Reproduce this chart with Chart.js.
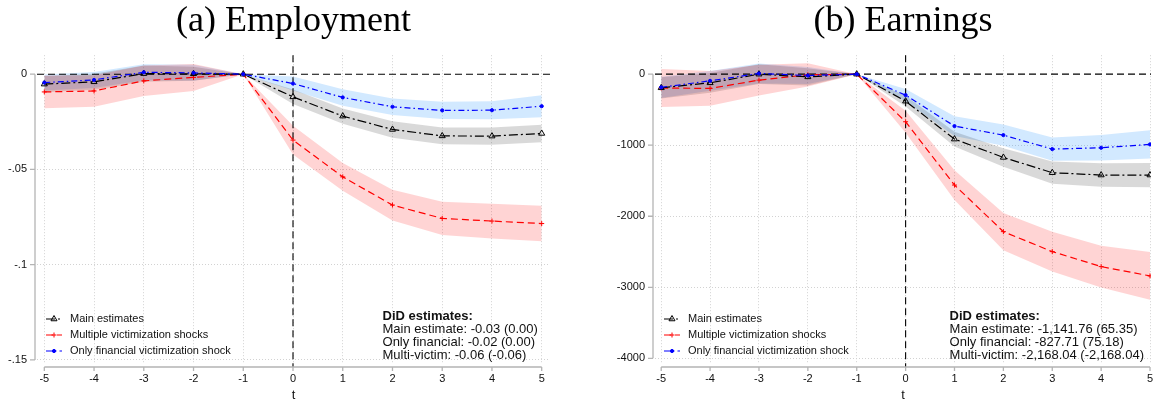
<!DOCTYPE html>
<html>
<head>
<meta charset="utf-8">
<title>Victimization shocks - event study</title>
<script src="https://cdn.jsdelivr.net/npm/chart.js@4.4.0/dist/chart.umd.min.js"></script>
<style>
    html, body { margin: 0; padding: 0; background: #fff; }
    #wrap { position: relative; width: 1156px; height: 402px; }
    .panel { position: absolute; top: 0; width: 578px; height: 402px; }
</style>
</head>
<body>
<div id="wrap">
    <div class="panel" style="left:0"><canvas id="empChart" width="578" height="402"></canvas></div>
    <div class="panel" style="left:578px"><canvas id="earnChart" width="578" height="402"></canvas></div>
</div>
<script>
// Event time
const periods = [-5, -4, -3, -2, -1, 0, 1, 2, 3, 4, 5];

// (a) Employment
const empMain     = [-0.0052, -0.0040, 0.0003, 0.0002, 0, -0.0119, -0.0220, -0.0290, -0.0324, -0.0325, -0.0311];
const empMainLo   = [-0.0095, -0.0082, -0.0040, -0.0035, 0, -0.0157, -0.0260, -0.0333, -0.0368, -0.0370, -0.0357];
const empMainHi   = [-0.0009, 0.0002, 0.0046, 0.0039, 0, -0.0081, -0.0180, -0.0247, -0.0280, -0.0280, -0.0265];
const empMulti    = [-0.0093, -0.0088, -0.0035, -0.0017, 0, -0.0346, -0.0539, -0.0687, -0.0757, -0.0771, -0.0784];
const empMultiLo  = [-0.0179, -0.0171, -0.0115, -0.0088, 0, -0.0422, -0.0612, -0.0768, -0.0844, -0.0862, -0.0877];
const empMultiHi  = [-0.0007, -0.0005, 0.0045, 0.0054, 0, -0.0270, -0.0466, -0.0606, -0.0670, -0.0680, -0.0691];
const empFin      = [-0.0044, -0.0030, 0.0010, 0.0007, 0, -0.0049, -0.0122, -0.0171, -0.0190, -0.0189, -0.0168];
const empFinLo    = [-0.0086, -0.0072, -0.0032, -0.0035, 0, -0.0086, -0.0165, -0.0214, -0.0235, -0.0236, -0.0226];
const empFinHi    = [-0.0002, 0.0012, 0.0052, 0.0049, 0, -0.0012, -0.0079, -0.0128, -0.0145, -0.0142, -0.0110];
const empYTicks   = [0, -0.05, -0.1, -0.15];
const empNote     = ['DiD estimates:', 'Main estimate: -0.03 (0.00)', 'Only financial: -0.02 (0.00)', 'Multi-victim: -0.06 (-0.06)'];

// (b) Earnings
const earnMain    = [-192, -122, 0, -38, 0, -380, -914, -1172, -1387, -1420, -1420];
const earnMainLo  = [-342, -262, -140, -158, 0, -455, -1019, -1302, -1544, -1585, -1591];
const earnMainHi  = [-42, 18, 140, 82, 0, -305, -809, -1042, -1230, -1255, -1249];
const earnMulti   = [-195, -201, -84, -9, 0, -670, -1561, -2217, -2498, -2709, -2840];
const earnMultiLo = [-463, -446, -300, -173, 0, -825, -1771, -2479, -2779, -3004, -3175];
const earnMultiHi = [73, 44, 132, 155, 0, -515, -1351, -1955, -2217, -2414, -2505];
const earnFin     = [-185, -94, 10, -19, 0, -295, -731, -858, -1055, -1036, -989];
const earnFinLo   = [-335, -234, -130, -139, 0, -380, -871, -1008, -1219, -1216, -1188];
const earnFinHi   = [-35, 46, 150, 101, 0, -210, -591, -708, -891, -856, -790];
const earnYTicks  = [0, -1000, -2000, -3000, -4000];
const earnNote    = ['DiD estimates:', 'Main estimate: -1,141.76 (65.35)', 'Only financial: -827.71 (75.18)', 'Multi-victim: -2,168.04 (-2,168.04)'];

const SANS = "'Liberation Sans', Arial, sans-serif";
const SERIF = "'Liberation Serif', 'Times New Roman', serif";

// Line / marker / band look for each series (legend order)
const styles = {
    main:  { label: 'Main estimates', color: '#000000', dash: [9, 3, 2, 3], pointStyle: 'triangle', radius: 3.5, fillPt: 'rgba(0,0,0,0)', band: 'rgba(0,0,0,0.15)', order: 1 },
    multi: { label: 'Multiple victimization shocks', color: '#ff0000', dash: [7, 4], pointStyle: 'cross', radius: 2.5, fillPt: '#ff0000', band: 'rgba(255,0,0,0.17)', order: 2 },
    fin:   { label: 'Only financial victimization shock', color: '#0000ff', dash: [6, 3, 1.5, 3], pointStyle: 'circle', radius: 1.6, fillPt: '#0000ff', band: 'rgba(30,144,255,0.2)', order: 0 }
};

const pts = arr => periods.map((t, i) => ({ x: t, y: arr[i] }));

function bandSets(lo, hi, color) {
    return [
        { data: pts(hi), borderWidth: 0, pointRadius: 0, fill: '+1', backgroundColor: color, order: 20 },
        { data: pts(lo), borderWidth: 0, pointRadius: 0, fill: false, order: 21 }
    ];
}

function lineSet(key, est) {
    const s = styles[key];
    return {
        label: s.label,
        data: pts(est),
        borderColor: s.color,
        borderWidth: 1.2,
        borderDash: s.dash,
        tension: 0,
        fill: false,
        pointStyle: s.pointStyle,
        pointRadius: s.radius,
        pointBorderColor: s.color,
        pointBackgroundColor: s.fillPt,
        pointBorderWidth: 1,
        order: s.order
    };
}

// Stata-like furniture: zero lines, short axis lines, legend and DiD note
function furniture(cfg) {
    return {
        id: 'furniture',
        beforeDatasetsDraw(chart) {
            const { ctx, chartArea: a, scales: { x, y } } = chart;
            const y0 = y.getPixelForValue(0), x0 = x.getPixelForValue(0);
            ctx.save();
            ctx.strokeStyle = '#000';
            ctx.lineWidth = 1.1;
            ctx.setLineDash([7, 4]);
            ctx.beginPath();
            ctx.moveTo(a.left, y0); ctx.lineTo(a.right, y0);
            ctx.moveTo(x0, a.top); ctx.lineTo(x0, a.bottom + 4);
            ctx.stroke();
            ctx.restore();
        },
        afterDraw(chart) {
            const { ctx, chartArea: a, scales: { x, y } } = chart;
            ctx.save();

            // axis lines span only the labelled range
            ctx.strokeStyle = '#b4b4b4';
            ctx.lineWidth = 1.3;
            ctx.beginPath();
            const ax = a.left - 2;
            ctx.moveTo(ax, y.getPixelForValue(cfg.yTicks[0]));
            ctx.lineTo(ax, y.getPixelForValue(cfg.yTicks[cfg.yTicks.length - 1]));
            cfg.yTicks.forEach(v => {
                const py = y.getPixelForValue(v);
                ctx.moveTo(ax, py); ctx.lineTo(ax - 5, py);
            });
            const ay = a.bottom + 4;
            ctx.moveTo(x.getPixelForValue(periods[0]), ay);
            ctx.lineTo(x.getPixelForValue(periods[periods.length - 1]), ay);
            periods.forEach(t => {
                const px = x.getPixelForValue(t);
                ctx.moveTo(px, ay); ctx.lineTo(px, ay + 4);
            });
            ctx.stroke();

            // legend
            ctx.font = '11px ' + SANS;
            ctx.textBaseline = 'middle';
            ['main', 'multi', 'fin'].forEach((key, i) => {
                const s = styles[key];
                const ry = a.bottom - 44 + i * 16;
                const lx = a.left + 9;
                ctx.strokeStyle = s.color;
                ctx.lineWidth = 1.2;
                ctx.setLineDash(s.dash);
                ctx.beginPath();
                ctx.moveTo(lx, ry); ctx.lineTo(lx + 16, ry);
                ctx.stroke();
                ctx.setLineDash([]);
                ctx.lineWidth = 1;
                ctx.fillStyle = s.fillPt;
                Chart.helpers.drawPoint(ctx, { pointStyle: s.pointStyle, radius: s.radius, borderWidth: 1, rotation: 0 }, lx + 8, ry);
                ctx.fillStyle = '#111';
                ctx.textAlign = 'left';
                ctx.fillText(s.label, a.left + 33, ry);
            });

            // DiD note
            const nx = x.getPixelForValue(cfg.noteX);
            const ny = y.getPixelForValue(cfg.noteY);
            cfg.note.forEach((line, i) => {
                ctx.font = (i === 0 ? 'bold ' : '') + '13px ' + SANS;
                ctx.fillStyle = '#111';
                ctx.fillText(line, nx, ny + i * 13);
            });
            ctx.restore();
        }
    };
}

function makeChart(canvasId, cfg) {
    const datasets = [
        ...bandSets(cfg.multiLo, cfg.multiHi, styles.multi.band),
        ...bandSets(cfg.mainLo, cfg.mainHi, styles.main.band),
        ...bandSets(cfg.finLo, cfg.finHi, styles.fin.band),
        lineSet('multi', cfg.multi),
        lineSet('main', cfg.main),
        lineSet('fin', cfg.fin)
    ];

    return new Chart(document.getElementById(canvasId), {
        type: 'line',
        data: { datasets: datasets },
        plugins: [furniture(cfg)],
        options: {
            responsive: false,
            animation: false,
            devicePixelRatio: 1,
            layout: { padding: { left: 0, right: cfg.padRight, top: 0, bottom: 0 } },
            plugins: {
                legend: { display: false },
                tooltip: { enabled: false },
                filler: { drawTime: 'beforeDatasetsDraw' },
                title: {
                    display: true,
                    text: cfg.title,
                    fullSize: false,
                    color: '#000',
                    font: { family: SERIF, size: 36, weight: 'normal', lineHeight: 1.2 },
                    padding: { top: 0, bottom: 12 }
                }
            },
            scales: {
                x: {
                    type: 'linear',
                    min: cfg.xMin,
                    max: cfg.xMax,
                    afterBuildTicks: s => { s.ticks = periods.map(v => ({ value: v })); },
                    afterFit: s => {
                        s.height = 39;
                        s.paddingLeft = 0;
                        s.paddingRight = 0;
                    },
                    ticks: {
                        autoSkip: false,
                        maxRotation: 0,
                        padding: 9,
                        color: '#111',
                        font: { family: SANS, size: 11 },
                        callback: v => String(v)
                    },
                    title: {
                        display: true,
                        text: 't',
                        color: '#111',
                        font: { family: SANS, size: 13, lineHeight: 1.0 },
                        padding: { top: 4, bottom: 0 }
                    },
                    grid: { color: '#d2d2d2', lineWidth: 1, drawTicks: false },
                    border: { display: false, dash: [1, 2] }
                },
                y: {
                    type: 'linear',
                    min: cfg.yMin,
                    max: cfg.yMax,
                    afterBuildTicks: s => { s.ticks = cfg.yTicks.map(v => ({ value: v })); },
                    afterFit: s => {
                        s.width = cfg.axisWidth;
                        s.paddingTop = 0;
                        s.paddingBottom = 0;
                    },
                    ticks: {
                        autoSkip: false,
                        padding: 10,
                        color: '#111',
                        font: { family: SANS, size: 11 },
                        callback: cfg.fmt
                    },
                    grid: {
                        color: c => (c.tick && c.tick.value === 0) ? 'rgba(0,0,0,0)' : '#d2d2d2',
                        lineWidth: 1,
                        drawTicks: false
                    },
                    border: { display: false, dash: [1, 2] }
                }
            }
        }
    });
}

makeChart('empChart', {
    title: '(a) Employment',
    main: empMain, mainLo: empMainLo, mainHi: empMainHi,
    multi: empMulti, multiLo: empMultiLo, multiHi: empMultiHi,
    fin: empFin, finLo: empFinLo, finHi: empFinHi,
    yTicks: empYTicks,
    yMin: -0.1516, yMax: 0.00997,
    xMin: -5.147, xMax: 5.167,
    axisWidth: 37, padRight: 28,
    fmt: v => v === 0 ? '0' : String(v).replace('0.', '.'),
    note: empNote, noteX: 1.8, noteY: -0.127
});

makeChart('earnChart', {
    title: '(b) Earnings',
    main: earnMain, mainLo: earnMainLo, mainHi: earnMainHi,
    multi: earnMulti, multiLo: earnMultiLo, multiHi: earnMultiHi,
    fin: earnFin, finLo: earnFinLo, finHi: earnFinHi,
    yTicks: earnYTicks,
    yMin: -4066, yMax: 267,
    xMin: -5.127, xMax: 5.02,
    axisWidth: 77, padRight: 0,
    fmt: v => String(v),
    note: earnNote, noteX: 0.9, noteY: -3404
});
</script>
</body>
</html>
